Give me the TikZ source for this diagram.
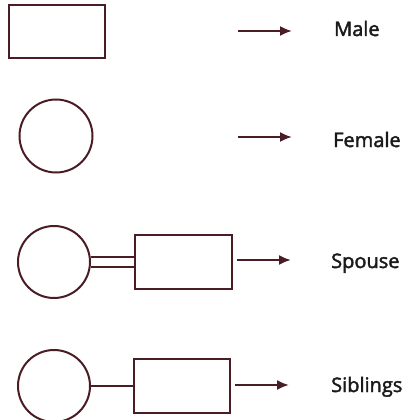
\documentclass[tikz,border=0pt]{standalone}
\usepackage{fontspec}
\newfontfamily\legendfont{Open Sans}[FakeBold=2]
\usetikzlibrary{arrows.meta}
\definecolor{ink}{HTML}{4A1C24}
\definecolor{txt}{HTML}{1A1A1A}
\tikzset{
  shape line/.style={draw=ink, line width=2pt},
  malebox/.style={shape line, rectangle, minimum width=96pt, minimum height=53pt, inner sep=0pt},
  femalecirc/.style={shape line, circle, minimum size=73pt, inner sep=0pt},
  pointer/.style={draw=ink, line width=2pt, -{Latex[length=12pt,width=10pt]}},
  legend/.style={text=txt, font=\legendfont\fontsize{20}{23}\selectfont, anchor=base west, inner sep=0pt},
}
\begin{document}
\begin{tikzpicture}[x=1pt, y=-1pt]
  \useasboundingbox (0,0) rectangle (412,420);
  % male
  \node[malebox] (m) at (57,31.5) {};
  \coordinate (m1) at (238,31);
  \coordinate (m2) at (292,31);
  \draw[pointer] (m1) -- (m2);
  \node[legend] (mt) at (334,36) {Male};
  % female
  \node[femalecirc] (f) at (56,136) {};
  \coordinate (f1) at (238,137);
  \coordinate (f2) at (292,137);
  \draw[pointer] (f1) -- (f2);
  \node[legend] (ft) at (333,147) {Female};
  % spouse: double marriage line
  \node[femalecirc, minimum size=72pt] (sc) at (54,262) {};
  \node[malebox, minimum width=97pt, minimum height=54pt] (sr) at (183.5,262) {};
  \draw[shape line] ([yshift=-4.5pt]sc.east) -- ([yshift=-4.5pt]sr.west);
  \draw[shape line] ([yshift=5pt]sc.east) -- ([yshift=5pt]sr.west);
  \coordinate (s1) at (237,260);
  \coordinate (s2) at (291,260);
  \draw[pointer] (s1) -- (s2);
  \node[legend] (st) at (331,268) {Spouse};
  % siblings: single line
  \node[femalecirc, minimum size=72pt] (bc) at (54,386) {};
  \node[malebox, minimum width=96pt, minimum height=54pt] (br) at (182,386) {};
  \draw[shape line] (bc.east) -- (br.west);
  \coordinate (b1) at (235,385);
  \coordinate (b2) at (289,385);
  \draw[pointer] (b1) -- (b2);
  \node[legend] (bt) at (331,392) {Siblings};
\end{tikzpicture}
\end{document}
